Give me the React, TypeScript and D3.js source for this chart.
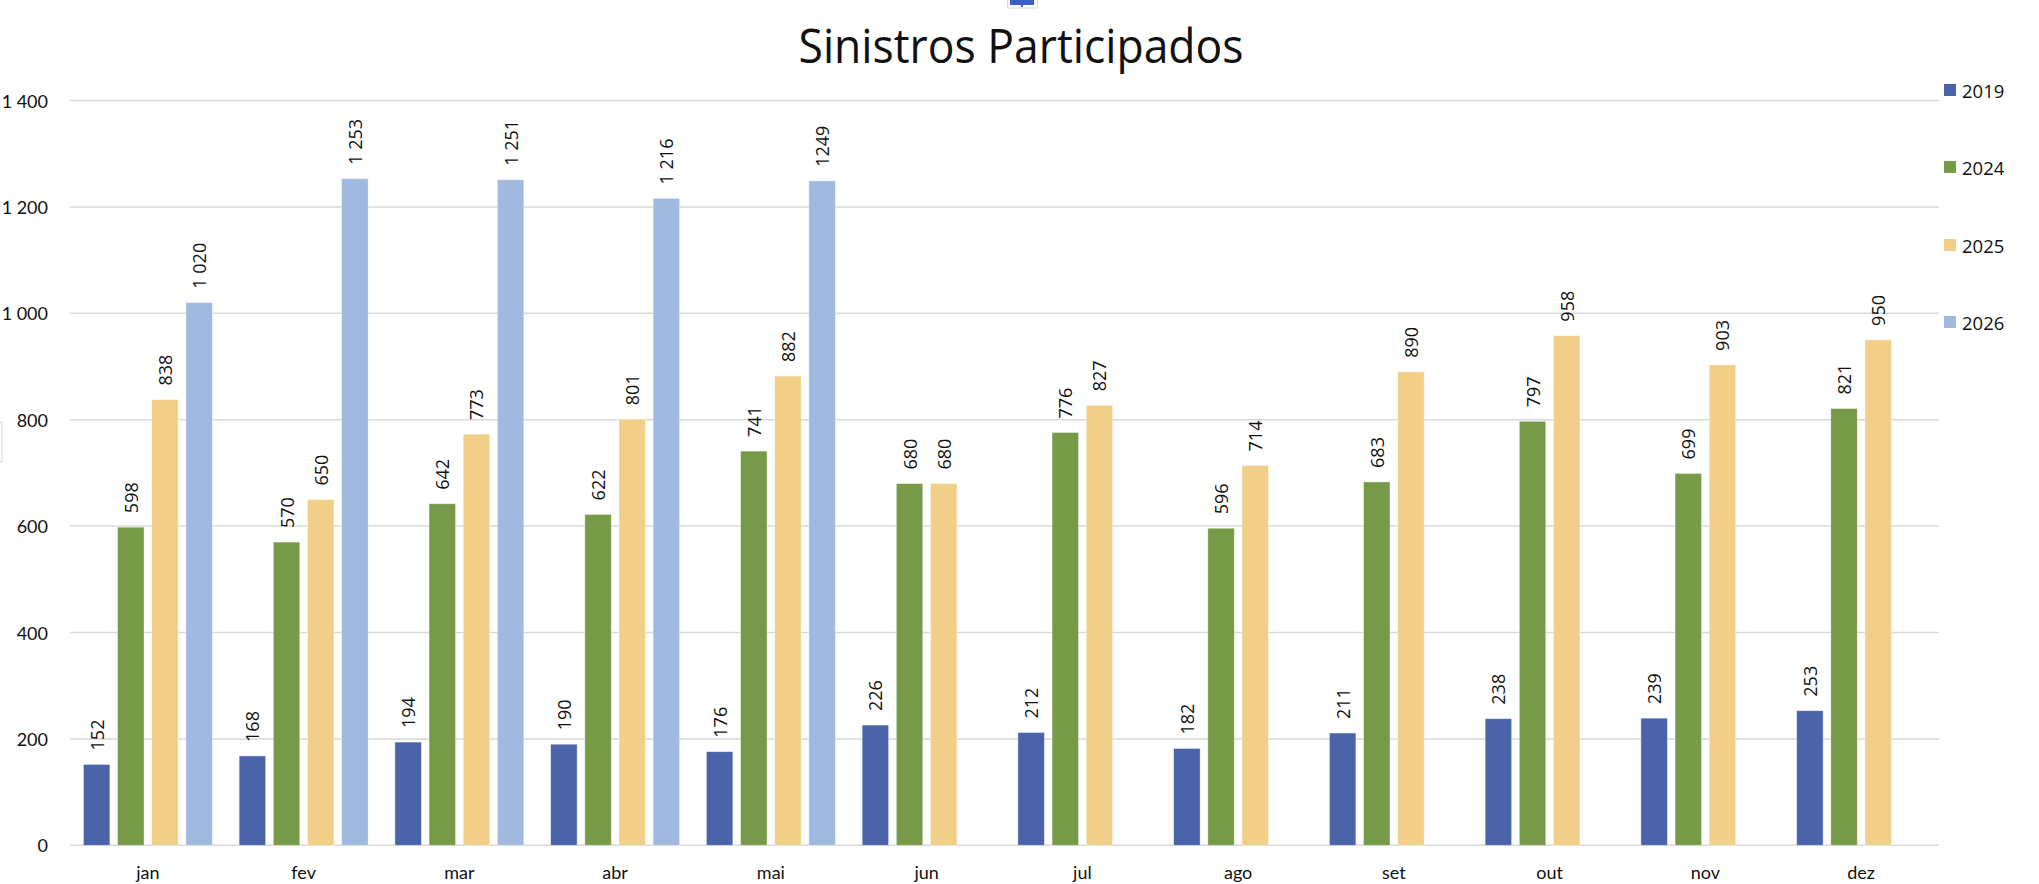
import React, { useEffect, useRef } from 'react';
import * as d3 from 'd3';

const months: string[] = ['jan', 'fev', 'mar', 'abr', 'mai', 'jun', 'jul', 'ago', 'set', 'out', 'nov', 'dez'];

const seriesNames: string[] = ['2019', '2024', '2025', '2026'];
const seriesColors: string[] = ['#4a63a9', '#779a48', '#f2cf88', '#a1b8df'];

const values2019: number[] = [152, 168, 194, 190, 176, 226, 212, 182, 211, 238, 239, 253];
const values2024: number[] = [598, 570, 642, 622, 741, 680, 776, 596, 683, 797, 699, 821];
const values2025: number[] = [838, 650, 773, 801, 882, 680, 827, 714, 890, 958, 903, 950];
const values2026: (number | null)[] = [1020, 1253, 1251, 1216, 1249, null, null, null, null, null, null, null];
// the source chart prints the mai value without the thousands space
const labels2026: string[] = ['1 020', '1 253', '1 251', '1 216', '1249'];

const yTicks: number[] = [0, 200, 400, 600, 800, 1000, 1200, 1400];

interface BarDatum {
  month: string;
  series: string;
  value: number;
  label: string;
  color: string;
}

const W = 2039;
const H = 884;

const ptLocale = d3.formatLocale({ decimal: ',', thousands: ' ', grouping: [3], currency: ['', ' €'] });
const fmt = ptLocale.format(',d');

const App: React.FC = () => {
  const svgRef = useRef<SVGSVGElement | null>(null);

  useEffect(() => {
    const plot = { left: 70, right: 1939, top: 100.5, bottom: 845.3 };

    const svg = d3.select(svgRef.current);
    svg.selectAll('*').remove();

    const allSeries = [values2019, values2024, values2025, values2026];
    const bars: BarDatum[] = [];
    allSeries.forEach((vals, si) => {
      vals.forEach((v, mi) => {
        if (v == null) return;
        bars.push({
          month: months[mi],
          series: seriesNames[si],
          value: v,
          label: si === 3 ? labels2026[mi] : fmt(v),
          color: seriesColors[si],
        });
      });
    });

    const x0 = d3.scaleBand<string>().domain(months).range([plot.left, plot.right]);
    const edge = 13.4;
    const x1 = d3
      .scaleBand<string>()
      .domain(seriesNames)
      .range([edge, x0.bandwidth() - edge])
      .paddingInner(0.225)
      .paddingOuter(0);
    const y = d3.scaleLinear().domain([0, 1400]).range([plot.bottom, plot.top]);

    // little selection handle at the top of the chart
    svg
      .append('rect')
      .attr('x', 1007.5)
      .attr('y', -1)
      .attr('width', 30)
      .attr('height', 9)
      .attr('fill', '#fff')
      .attr('stroke', '#d3daef')
      .attr('stroke-width', 1);
    svg
      .append('rect')
      .attr('x', 1010)
      .attr('y', 0)
      .attr('width', 24)
      .attr('height', 5)
      .attr('fill', '#3b5fc8');
    svg
      .append('rect')
      .attr('x', 1021)
      .attr('y', 4)
      .attr('width', 2)
      .attr('height', 3)
      .attr('fill', '#3b5fc8');

    // faint marker on the left edge
    svg
      .append('rect')
      .attr('x', -1)
      .attr('y', 422)
      .attr('width', 3)
      .attr('height', 40)
      .attr('fill', 'none')
      .attr('stroke', '#d5dbee')
      .attr('stroke-width', 1);

    svg
      .append('text')
      .attr('x', 1021)
      .attr('y', 63)
      .attr('text-anchor', 'middle')
      .attr('font-family', '"Open Sans", sans-serif')
      .attr('font-size', 48)
      .attr('textLength', 445)
      .attr('lengthAdjust', 'spacingAndGlyphs')
      .attr('fill', '#111')
      .text('Sinistros Participados');

    // gridlines
    svg
      .append('g')
      .selectAll('line')
      .data(yTicks)
      .join('line')
      .attr('x1', plot.left)
      .attr('x2', plot.right)
      .attr('y1', (d) => y(d))
      .attr('y2', (d) => y(d))
      .attr('stroke', '#d9d9d9')
      .attr('stroke-width', 1.5);

    // y tick labels
    svg
      .append('g')
      .selectAll('text')
      .data(yTicks)
      .join('text')
      .attr('x', 48)
      .attr('y', (d) => y(d))
      .attr('text-anchor', 'end')
      .attr('dominant-baseline', 'central')
      .attr('font-family', 'Lato, sans-serif')
      .attr('font-size', 18)
      .attr('fill', '#111')
      .text((d) => fmt(d));

    // month labels
    svg
      .append('g')
      .selectAll('text')
      .data(months)
      .join('text')
      .attr('x', (d) => (x0(d) as number) + x0.bandwidth() / 2)
      .attr('y', 879)
      .attr('text-anchor', 'middle')
      .attr('font-family', 'Lato, sans-serif')
      .attr('font-size', 18)
      .attr('fill', '#111')
      .text((d) => d);

    const barX = (d: BarDatum) => (x0(d.month) as number) + (x1(d.series) as number);

    svg
      .append('g')
      .selectAll('rect')
      .data(bars)
      .join('rect')
      .attr('x', barX)
      .attr('y', (d) => y(d.value))
      .attr('width', x1.bandwidth())
      .attr('height', (d) => y(0) - y(d.value))
      .attr('fill', (d) => d.color)
      .attr('stroke', '#ffffff')
      .attr('stroke-opacity', 0.5)
      .attr('stroke-width', 0.8);

    // rotated data labels
    svg
      .append('g')
      .selectAll('text')
      .data(bars)
      .join('text')
      .attr('transform', (d) => {
        const cx = barX(d) + x1.bandwidth() / 2;
        return `translate(${cx},${y(d.value) - 14}) rotate(-90)`;
      })
      .attr('text-anchor', 'start')
      .attr('dominant-baseline', 'central')
      .attr('font-family', '"Open Sans", sans-serif')
      .attr('font-size', 18)
      .attr('fill', '#111')
      .text((d) => d.label);

    // legend
    const legendY = [90, 167, 245, 322];
    const legend = svg
      .append('g')
      .selectAll('g')
      .data(seriesNames)
      .join('g')
      .attr('transform', (_d, i) => `translate(1944,${legendY[i]})`);
    legend
      .append('rect')
      .attr('x', 0)
      .attr('y', -6)
      .attr('width', 12)
      .attr('height', 12)
      .attr('fill', (_d, i) => seriesColors[i]);
    legend
      .append('text')
      .attr('x', 18)
      .attr('y', 0)
      .attr('dominant-baseline', 'central')
      .attr('font-family', '"Open Sans", sans-serif')
      .attr('font-size', 18.5)
      .attr('fill', '#111')
      .text((d) => d);
  }, []);

  return (
    <svg
      ref={svgRef}
      width={W}
      height={H}
      style={{ position: 'absolute', left: 0, top: 0, display: 'block', background: '#fff' }}
    />
  );
};

export default App;
